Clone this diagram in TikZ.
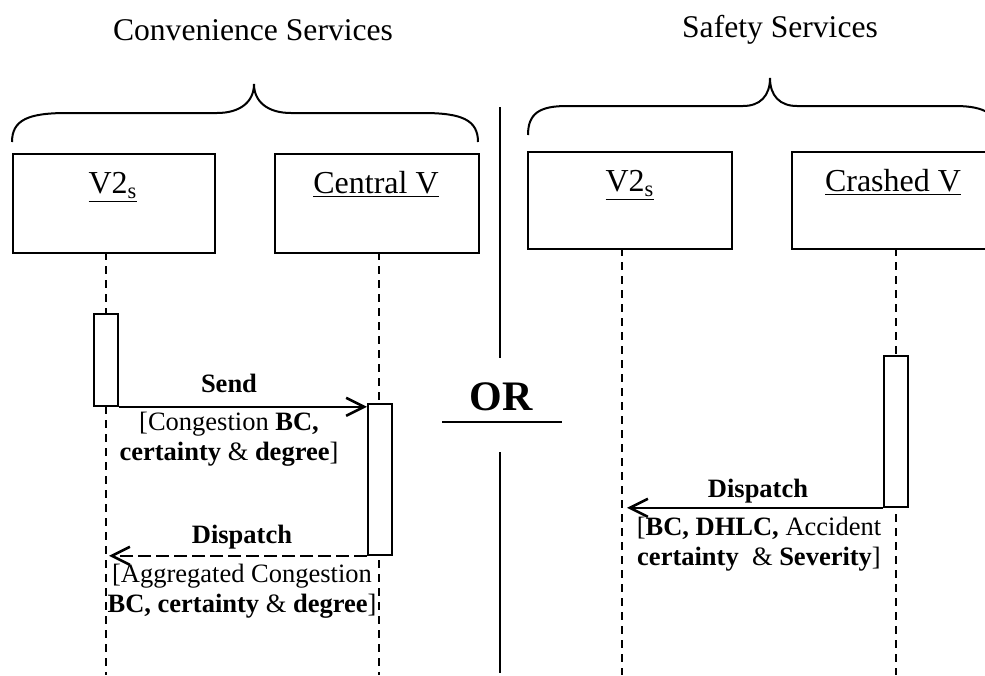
\documentclass[tikz,border=0pt]{standalone}
\usepackage{fontspec}
\setmainfont{Liberation Serif}
\usetikzlibrary{arrows.meta}

\begin{document}
\begin{tikzpicture}[x=0.5pt,y=-0.5pt,
  title/.style={anchor=base,inner sep=0pt,font=\fontsize{15.8}{18}\selectfont},
  objbox/.style={draw,line width=1pt,anchor=north west,inner sep=0pt,minimum height=49.5pt},
  objname/.style={anchor=base,inner sep=0pt,font=\fontsize{16}{18}\selectfont},
  lifeline/.style={line width=0.9pt,dash pattern=on 4pt off 3pt},
  actbar/.style={draw,fill=white,line width=0.9pt,anchor=north west,inner sep=0pt,minimum width=12pt},
  msg/.style={line width=1.3pt,-{Straight Barb[length=9pt,width=9pt,line width=1.3pt]}},
  msgname/.style={anchor=base,inner sep=0pt,font=\fontsize{13.25}{14.8}\selectfont\bfseries},
  msgtext/.style={anchor=base,inner sep=0pt,align=center,font=\fontsize{13.25}{14.8}\selectfont},
  brace/.style={line width=1pt},
  divider/.style={line width=1.2pt}]
\clip (0,0) rectangle (985,675);

% group titles
\node[title] (tconv) at (253,40) {Convenience Services};
\node[title] (tsafe) at (780,37) {Safety Services};

% curly braces over each group
\draw[brace] (12,142) .. controls (12,120) and (28,113) .. (67,113) -- (217,113)
  .. controls (240,113) and (254,102) .. (254,84)
  .. controls (254,102) and (268,113) .. (291,113) -- (423,113)
  .. controls (462,113) and (478,120) .. (478,142);
\draw[brace] (528,135) .. controls (528,113) and (540,106) .. (567,106) -- (743,106)
  .. controls (760,106) and (770,96) .. (770,78)
  .. controls (770,96) and (780,106) .. (797,106) -- (955,106)
  .. controls (985,106) and (1000,114) .. (1000,140);

% separator and OR
\draw[divider] (500,107) -- (500,358);
\draw[divider] (500,452) -- (500,673);
\node[anchor=base,inner sep=0pt,font=\fontsize{21}{24}\selectfont\bfseries] (orlbl) at (501,410) {OR};
\draw[line width=1.4pt] (442,422) -- (562,422);

% lifelines
\coordinate (lv2a) at (106,252);
\coordinate (lcen) at (379,252);
\coordinate (lv2b) at (622,248);
\coordinate (lcra) at (896,248);
\coordinate (ev2a) at (106,675);
\coordinate (ecen) at (379,675);
\coordinate (ev2b) at (622,675);
\coordinate (ecra) at (896,675);
\draw[lifeline] (lv2a) -- (ev2a);
\draw[lifeline] (lcen) -- (ecen);
\draw[lifeline] (lv2b) -- (ev2b);
\draw[lifeline] (lcra) -- (ecra);

% object boxes
\node[objbox,minimum width=101pt] (bv2a) at (12,153) {};
\node[objbox,minimum width=102pt] (bcen) at (274,153) {};
\node[objbox,minimum width=102pt,minimum height=48.5pt] (bv2b) at (527,151) {};
\node[objbox,minimum width=105pt,minimum height=48.5pt] (bcra) at (791,151) {};
\node[objname] (nv2a) at (113,193) {\underline{V2\textsubscript{s}}};
\node[objname] (ncen) at (376,193) {\underline{Central V}};
\node[objname] (nv2b) at (630,191) {\underline{V2\textsubscript{s}}};
\node[objname] (ncra) at (893,191) {\underline{Crashed V}};

% activation bars
\node[actbar,minimum height=46pt] (a1) at (93,313) {};
\node[actbar,minimum height=75.5pt] (a2) at (367,403) {};
\node[actbar,minimum height=75.5pt] (a3) at (883,355) {};

% messages
\draw[msg] (a1.south east) -- (a1.south east -| a2.west);
\draw[msg,dash pattern=on 6.5pt off 2.5pt] (a2.south west) -- ([xshift=1.5pt]a2.south west -| lv2a);
\draw[msg] (a3.south west) -- ([xshift=2.5pt]a3.south west -| lv2b);

% message labels (multi-line labels are placed by their last baseline)
\node[msgname] (m1) at (229,392) {Send};
\node[msgtext] (m1t) at (229,460) {[Congestion \textbf{BC,}\\\textbf{certainty} \& \textbf{degree}]};
\node[msgname] (m2) at (242,543) {Dispatch};
\node[msgtext] (m2t) at (242,612) {[Aggregated Congestion\\\textbf{BC, certainty} \& \textbf{degree}]};
\node[msgname] (m3) at (758,497) {Dispatch};
\node[msgtext] (m3t) at (759,565) {[\textbf{BC, DHLC,} Accident\\\textbf{certainty}\ \ \& \textbf{Severity}]};
\end{tikzpicture}
\end{document}
